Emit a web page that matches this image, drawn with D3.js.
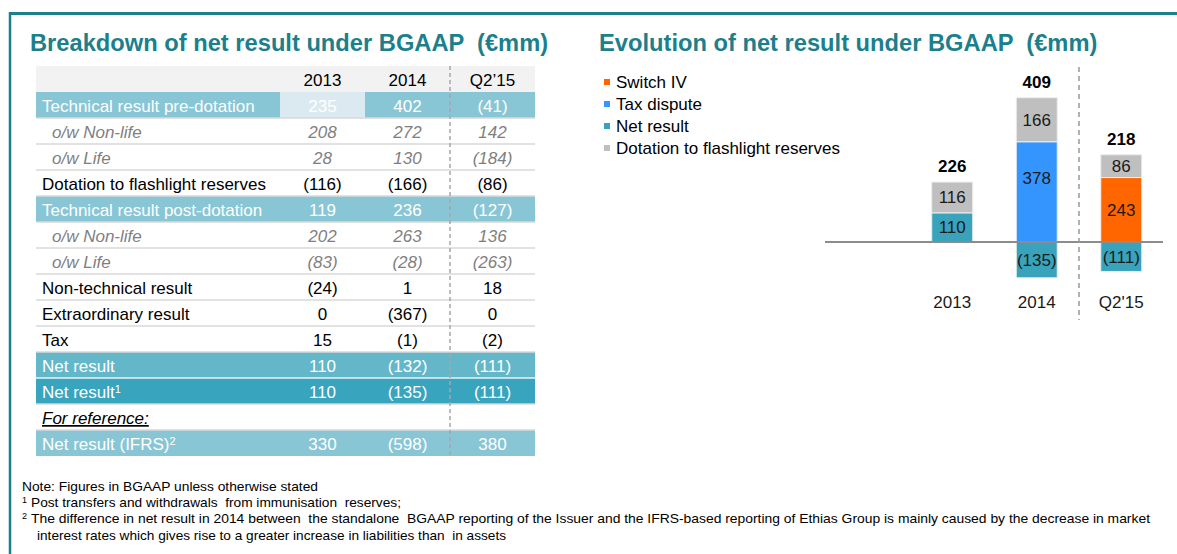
<!DOCTYPE html>
<html><head><meta charset="utf-8">
<script src="https://cdn.jsdelivr.net/npm/d3@7"></script>
<style>body{margin:0;background:#fff} svg{display:block;font-family:Arial,"Liberation Sans",sans-serif} text{white-space:pre}</style>
</head><body><svg id="c" width="1177" height="554"></svg>
<script>
// ---------- DATA ----------
const tableColumns = ["2013", "2014", "Q2’15"];
const rowLabels = [
  "Technical result pre-dotation", "o/w Non-life", "o/w Life",
  "Dotation to flashlight reserves", "Technical result post-dotation",
  "o/w Non-life", "o/w Life", "Non-technical result", "Extraordinary result",
  "Tax", "Net result", "Net result", "For reference:", "Net result (IFRS)"
];
const rowSuperscripts = ["", "", "", "", "", "", "", "", "", "", "", "1", "", "2"];
const values2013 = [235, 208, 28, -116, 119, 202, -83, -24, 0, 15, 110, 110, null, 330];
const values2014 = [402, 272, 130, -166, 236, 263, -28, 1, -367, -1, -132, -135, null, -598];
const valuesQ215 = [-41, 142, -184, -86, -127, 136, -263, 18, 0, -2, -111, -111, null, 380];

const chartCategories = ["2013", "2014", "Q2'15"];
const netResult = [110, -135, -111];
const taxDispute = [0, 378, 0];
const switchIV = [0, 0, 243];
const dotation = [116, 166, 86];
const totals = [226, 409, 218];
const legendLabels = ["Switch IV", "Tax dispute", "Net result", "Dotation to flashlight reserves"];

const footnotes = [
  "Note: Figures in BGAAP unless otherwise stated",
  "Post transfers and withdrawals  from immunisation  reserves;",
  "The difference in net result in 2014 between  the standalone  BGAAP reporting of the Issuer and the IFRS-based reporting of Ethias Group is mainly caused by the decrease in market",
  "interest rates which gives rise to a greater increase in liabilities than  in assets"
];

// ---------- STYLE ----------
const TEAL = "#1b7f8c";
const rowKinds = ["teal","italic","italic","normal","teal","italic","italic","normal","normal","normal","net","net1","ref","teal"];
const rowFill = {teal:"#88c6d5", net:"#63b7c9", net1:"#38a4bd"};
const fmt = v => v == null ? "" : (v < 0 ? "(" + (-v) + ")" : String(v));

const svg = d3.select("#c");

// frame
svg.append("line").attr("x1", 9).attr("x2", 1177).attr("y1", 13.5).attr("y2", 13.5)
  .attr("stroke", TEAL).attr("stroke-width", 3);
svg.append("line").attr("x1", 10).attr("x2", 10).attr("y1", 12).attr("y2", 554)
  .attr("stroke", TEAL).attr("stroke-width", 2.5);

// titles
svg.append("text").attr("x", 30).attr("y", 51).attr("fill", TEAL)
  .attr("font-size", 23.7).attr("font-weight", "bold")
  .text("Breakdown of net result under BGAAP  (€mm)");
svg.append("text").attr("x", 599).attr("y", 51).attr("fill", TEAL)
  .attr("font-size", 23.7).attr("font-weight", "bold")
  .text("Evolution of net result under BGAAP  (€mm)");

// ---------- TABLE ----------
const rowIdx = d3.range(rowLabels.length + 1); // 0 = header
const yRow = d3.scaleBand().domain(rowIdx).range([66, 456]);
const xCol = d3.scaleBand().domain(tableColumns).range([280, 535]);
const tableLeft = 36, tableRight = 535;
const colVals = [values2013, values2014, valuesQ215];

const tbl = svg.append("g");
tbl.append("rect").attr("x", tableLeft).attr("y", yRow(0)).attr("width", tableRight - tableLeft)
  .attr("height", yRow.bandwidth()).attr("fill", "#f2f2f2");
tableColumns.forEach(c => {
  tbl.append("text").attr("x", xCol(c) + xCol.bandwidth() / 2).attr("y", yRow(0) + 20)
    .attr("text-anchor", "middle").attr("font-size", 17).attr("fill", "#000").text(c);
});

rowLabels.forEach((lab, i) => {
  const r = i + 1, kind = rowKinds[i], y0 = yRow(r);
  if (rowFill[kind]) {
    tbl.append("rect").attr("x", tableLeft).attr("y", y0).attr("width", tableRight - tableLeft)
      .attr("height", yRow.bandwidth()).attr("fill", rowFill[kind]);
  }
  if (i === 0) {
    tbl.append("rect").attr("x", xCol(tableColumns[0])).attr("y", y0)
      .attr("width", xCol.bandwidth()).attr("height", yRow.bandwidth()).attr("fill", "#dbeaf0");
  }
});
for (let r = 2; r <= rowLabels.length; r++) {
  const a = rowKinds[r - 2], b = rowKinds[r - 1];
  const bothFilled = rowFill[a] && rowFill[b];
  tbl.append("line").attr("x1", tableLeft).attr("x2", tableRight)
    .attr("y1", yRow(r)).attr("y2", yRow(r))
    .attr("stroke", bothFilled ? "#e9f4f7" : "#d9d9d9").attr("stroke-width", 1.5);
}
rowLabels.forEach((lab, i) => {
  const r = i + 1, kind = rowKinds[i], yb = yRow(r) + 20;
  const filled = !!rowFill[kind];
  const color = filled ? "#ffffff" : (kind === "italic" ? "#7f7f7f" : "#000000");
  const italic = (kind === "italic" || kind === "ref");
  const t = tbl.append("text").attr("x", kind === "italic" ? 52 : 42).attr("y", yb)
    .attr("font-size", 17).attr("fill", color)
    .attr("font-style", italic ? "italic" : "normal")
    .attr("text-decoration", kind === "ref" ? "underline" : "none");
  t.append("tspan").text(lab);
  if (rowSuperscripts[i]) {
    t.append("tspan").attr("font-size", 11).attr("dy", -5).text(rowSuperscripts[i]);
  }
  tableColumns.forEach((c, j) => {
    const v = colVals[j][i];
    if (v == null) return;
    tbl.append("text").attr("x", xCol(c) + xCol.bandwidth() / 2).attr("y", yb)
      .attr("text-anchor", "middle").attr("font-size", 17).attr("fill", color)
      .attr("font-style", kind === "italic" ? "italic" : "normal").text(fmt(v));
  });
});
tbl.append("line").attr("x1", xCol(tableColumns[2])).attr("x2", xCol(tableColumns[2]))
  .attr("y1", 66).attr("y2", 456).attr("stroke", "#a6a6a6").attr("stroke-width", 1.5)
  .attr("stroke-dasharray", "4,3");

// ---------- CHART ----------
const keys = ["netResult", "taxDispute", "switchIV", "dotation"];
const series = {netResult, taxDispute, switchIV, dotation};
const colors = {switchIV:"#ff6600", taxDispute:"#3595ff", netResult:"#38a3ba", dotation:"#bfbfbf"};
const rows = chartCategories.map((c, i) => {
  const o = {cat: c};
  keys.forEach(k => o[k] = series[k][i]);
  return o;
});
const stacked = d3.stack().keys(keys).offset(d3.stackOffsetDiverging)(rows);

const x = d3.scaleBand().domain(chartCategories).range([910, 1163.5])
  .paddingInner(0.515).paddingOuter(0.257);
const y = d3.scaleLinear().domain([0, 544]).range([242, 97.7]);

const ch = svg.append("g");
stacked.forEach(s => {
  s.forEach(d => {
    const v = d.data[s.key];
    if (!v) return;
    const top = y(Math.max(d[0], d[1])), bot = y(Math.min(d[0], d[1]));
    ch.append("rect").attr("x", x(d.data.cat)).attr("y", top)
      .attr("width", x.bandwidth()).attr("height", bot - top)
      .attr("fill", colors[s.key]).attr("stroke", "#eeeeee").attr("stroke-width", 1);
    const ly = (s.key === "taxDispute") ? top + 42 : (top + bot) / 2 + 6;
    ch.append("text").attr("x", x(d.data.cat) + x.bandwidth() / 2).attr("y", ly)
      .attr("text-anchor", "middle").attr("font-size", 17).attr("fill", "#1a1a1a").text(fmt(v));
  });
});
ch.append("line").attr("x1", 825).attr("x2", 1163).attr("y1", y(0)).attr("y2", y(0))
  .attr("stroke", "#8c8c8c").attr("stroke-width", 2);
chartCategories.forEach((c, i) => {
  const posTop = d3.max(stacked, s => s[i][1]);
  ch.append("text").attr("x", x(c) + x.bandwidth() / 2).attr("y", y(posTop) - 10)
    .attr("text-anchor", "middle").attr("font-size", 17).attr("font-weight", "bold")
    .attr("fill", "#000").text(totals[i]);
});
const xAxis = d3.axisBottom(x).tickSize(0).tickPadding(0);
const ax = ch.append("g").attr("transform", "translate(0,296)").call(xAxis);
ax.select(".domain").remove();
ax.selectAll("text").attr("font-size", 17).attr("fill", "#1a1a1a").attr("font-family", "Arial, 'Liberation Sans', sans-serif");
const divX = x(chartCategories[2]) - x.step() * x.paddingInner() / 2;
ch.append("line").attr("x1", divX).attr("x2", divX).attr("y1", 67).attr("y2", 320)
  .attr("stroke", "#999").attr("stroke-width", 1.5).attr("stroke-dasharray", "5,4");

const legendKeys = ["switchIV", "taxDispute", "netResult", "dotation"];
legendLabels.forEach((lab, i) => {
  const cy = 82 + i * 22;
  ch.append("rect").attr("x", 604).attr("y", cy - 3).attr("width", 6).attr("height", 6)
    .attr("fill", colors[legendKeys[i]]);
  ch.append("text").attr("x", 616).attr("y", cy + 6).attr("font-size", 17).attr("fill", "#000").text(lab);
});

// ---------- FOOTNOTES ----------
const fnY = [491, 507, 523, 540];
const fnX = [22, 31, 31, 37];
const fnW = [296, 370, 1119, 469];
const fnSup = ["", "1", "2", ""];
footnotes.forEach((t, i) => {
  if (fnSup[i]) {
    svg.append("text").attr("x", 22).attr("y", fnY[i] - 4).attr("font-size", 9).attr("fill", "#000").text(fnSup[i]);
  }
  svg.append("text").attr("x", fnX[i]).attr("y", fnY[i]).attr("font-size", 13).attr("fill", "#000")
    .attr("textLength", fnW[i]).attr("lengthAdjust", "spacingAndGlyphs").text(t);
});
</script></body></html>
